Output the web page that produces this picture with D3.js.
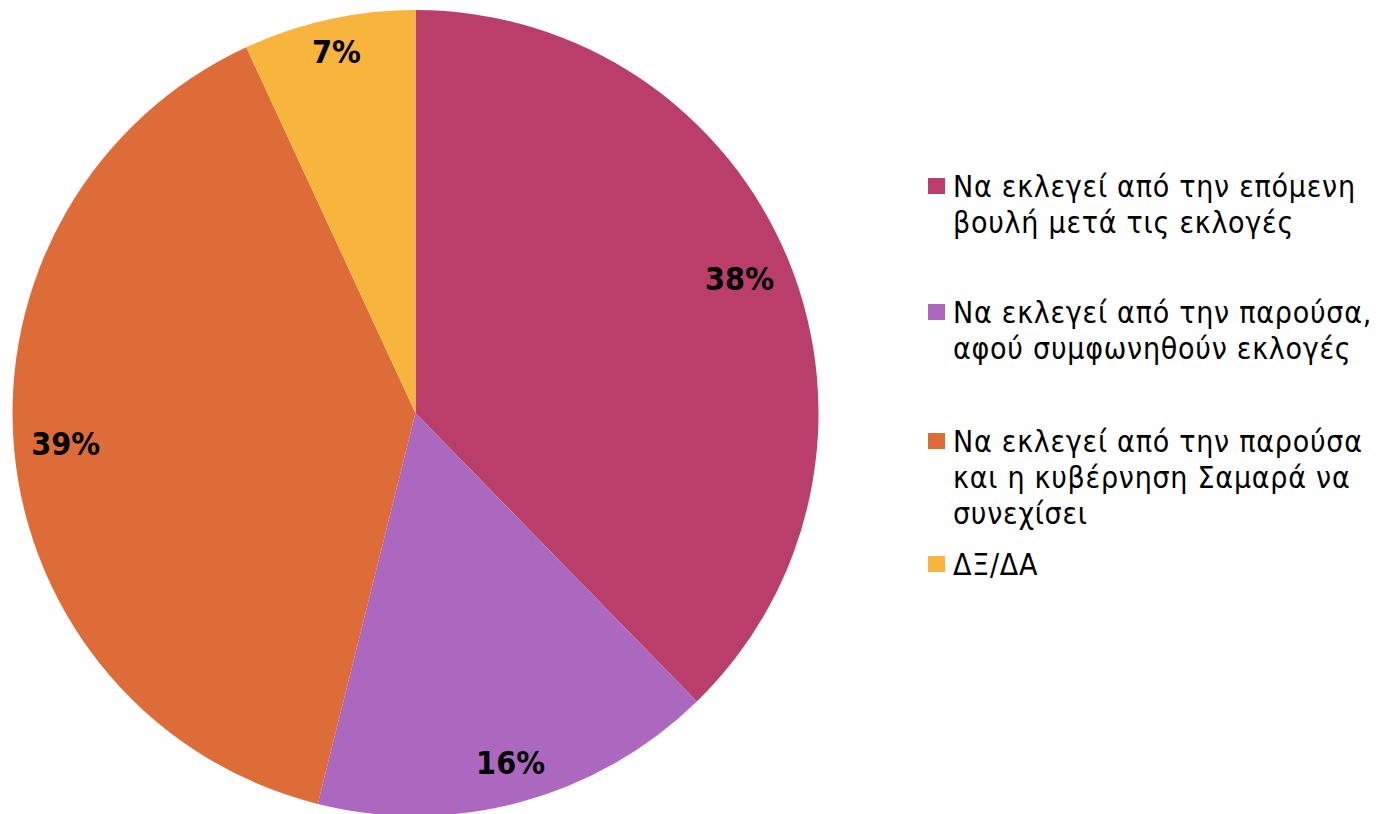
<!DOCTYPE html>
<html><head><meta charset="utf-8">
<script src="https://cdn.jsdelivr.net/npm/d3@7"></script>
<style>html,body{margin:0;padding:0;background:#fff;}</style>
</head><body>
<svg id="c" width="1380" height="814"></svg>
<script>
const categories = [
  ["Να εκλεγεί από την επόμενη", "βουλή μετά τις εκλογές"],
  ["Να εκλεγεί από την παρούσα,", "αφού συμφωνηθούν εκλογές"],
  ["Να εκλεγεί από την παρούσα", "και η κυβέρνηση Σαμαρά να", "συνεχίσει"],
  ["ΔΞ/ΔΑ"]
];
const values = [37.7, 16.2, 39.2, 6.9];
const colors = ["#B93E69", "#AB68BE", "#DE6C38", "#F8B53D"];

const svg = d3.select("#c");
const cx = 415.5, cy = 413, R = 403;
const pie = d3.pie().sort(null).value(d => d)(values);
const arc = d3.arc().innerRadius(0).outerRadius(R);
const g = svg.append("g").attr("transform", `translate(${cx},${cy})`);
g.selectAll("path").data(pie).join("path")
  .attr("d", arc).attr("fill", (d, i) => colors[i]);

// labels placed "inside end": box corner touches an inner circle
const fmt = d3.format(".0f");
const labels = g.selectAll("text.lbl").data(pie).join("text").attr("class", "lbl")
  .attr("text-anchor", "middle").attr("dominant-baseline", "central")
  .style("font-family", "DejaVu Sans Condensed, DejaVu Sans").style("font-weight", "bold").style("font-size", "32px")
  .text(d => fmt(d.data) + "%");
labels.each(function(d) {
  const bb = this.getBBox();
  const hw = bb.width / 2, hh = 14;
  const a = (d.startAngle + d.endAngle) / 2;
  const r = 387 - (hw * Math.abs(Math.sin(a)) + hh * Math.abs(Math.cos(a)));
  d3.select(this).attr("transform", `translate(${r * Math.sin(a)},${-r * Math.cos(a) - 2})`);
});

const legendY = [197, 323, 452, 575];
const lg = svg.append("g");
categories.forEach((lines, i) => {
  lg.append("rect").attr("x", 928).attr("y", legendY[i] - 19).attr("width", 17).attr("height", 16).attr("fill", colors[i]);
  const t = lg.append("text").attr("x", 953).attr("y", legendY[i])
    .style("font-family", "DejaVu Sans Condensed, DejaVu Sans").style("font-size", "30px")
    .style("letter-spacing", "0.75px").attr("fill", "#000");
  lines.forEach((l, j) => t.append("tspan").attr("x", 953).attr("dy", j ? 36 : 0).text(l));
});
</script>
</body></html>
